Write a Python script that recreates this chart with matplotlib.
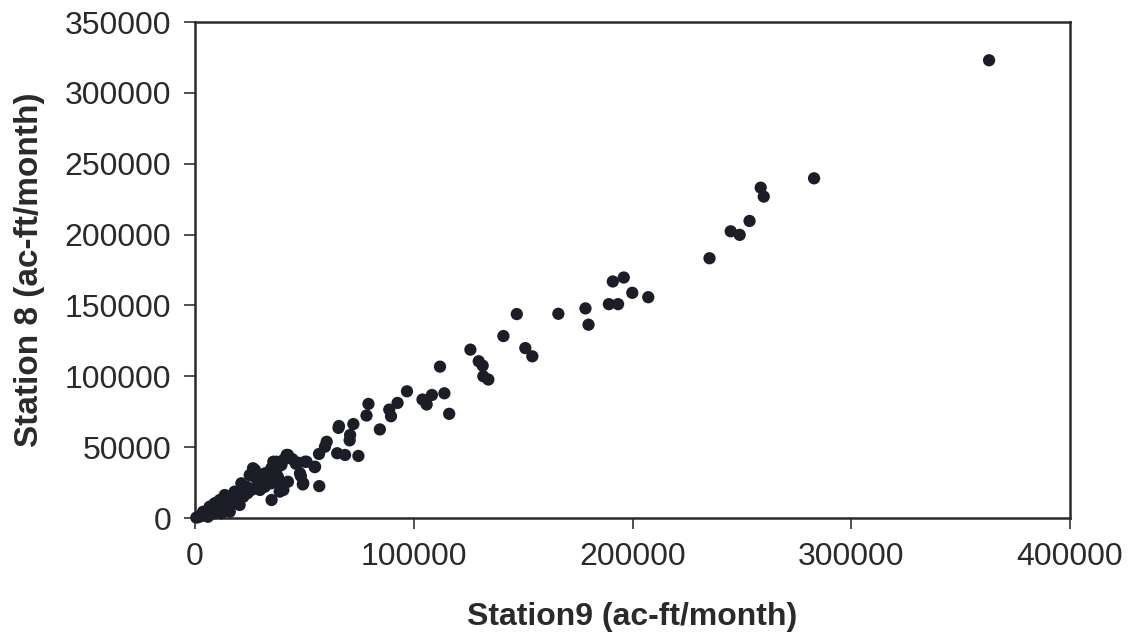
import matplotlib
matplotlib.use("Agg")
import matplotlib.pyplot as plt

# Station 9 (x) vs Station 8 (y), ac-ft/month
station9 = [
    363000, 283000, 258600, 260000, 253500, 244900, 249000, 235200,
    191000, 196000, 199900, 207200, 189200, 193400, 178500, 179900,
    166100, 147100, 141000, 125900, 151000, 154200, 129700, 131500,
    131800, 134100, 112000, 114000, 108300, 104000, 105900, 116200,
    96900, 79300, 88800, 89600, 92600, 78400, 84500, 65600,
    72400, 70900, 70700, 65800, 60200, 59400, 56700, 65000,
    68600, 74700, 50300, 46100, 54700, 56800, 48400, 49300,
    41900, 40400, 47200, 51000, 54900, 48000, 49500, 35800,
    38100, 27400, 26700, 29700, 35800, 39600, 35000, 40400,
    29700, 23600, 22100, 32000, 42500, 37200, 39500, 34900,
    32600, 26500, 25000, 27300, 29600, 31900, 34900, 37900,
    42500, 38700, 21200, 22700, 18100, 19700, 15100, 20400,
    16600, 12000, 10500, 7500, 5200, 2900, 600, 13600,
    15900, 9000, 5900, 12000, 13600, 11300, 9000, 6700,
    3700, 1500, 2200, 4200, 8000, 10000, 14500, 17000,
    19000, 24500, 30500, 36500, 28500, 26000, 24000, 17500,
    3000, 7000, 11000, 14000, 16500, 20500, 22500, 44500,
]
station8 = [
    323000, 239700, 233100, 226800, 209600, 202300, 199800, 183300,
    166900, 169700, 158900, 155800, 150900, 150900, 147900, 136400,
    144100, 143900, 128400, 118800, 119900, 114100, 110600, 107500,
    100000, 97700, 106800, 88000, 86800, 83600, 80100, 73500,
    89400, 80500, 76500, 71800, 81200, 72300, 62500, 63600,
    66300, 58600, 54800, 64900, 53800, 50300, 45200, 45700,
    44500, 43800, 39700, 38300, 35900, 22500, 29600, 23700,
    44500, 40900, 39000, 39700, 36200, 31500, 24500, 39700,
    36200, 33900, 30300, 26800, 25600, 24500, 12700, 19800,
    19800, 22100, 15000, 31500, 44500, 39700, 37400, 35100,
    31500, 35100, 30300, 29100, 25600, 22100, 24500, 29100,
    25600, 18600, 24500, 19800, 18600, 15000, 15000, 9200,
    10400, 10400, 6800, 5600, 3300, 2100, 300, 8000,
    4400, 3300, 900, 3300, 16200, 12700, 10400, 8000,
    4400, 600, 1200, 2500, 6200, 8800, 11500, 13500,
    12500, 20500, 27000, 33000, 23500, 20000, 17500, 13000,
    1500, 4000, 7200, 9500, 12000, 15500, 17500, 41500,
]

xticks = [0, 100000, 200000, 300000, 400000]
yticks = [0, 50000, 100000, 150000, 200000, 250000, 300000, 350000]

plt.rcParams['font.family'] = ['Liberation Sans', 'DejaVu Sans']

fig = plt.figure(figsize=(11.32, 6.43), dpi=100)
ax = fig.add_axes([195/1132, (643-518)/643, 875/1132, 496/643])

ax.scatter(station9, station8, s=78, color='#1b1e27', edgecolors='none', zorder=3, clip_on=False)

ax.set_xlim(0, 400000)
ax.set_ylim(0, 350000)
ax.set_xticks(xticks)
ax.set_yticks(yticks)
ax.set_xticklabels([str(v) for v in xticks])
ax.set_yticklabels([str(v) for v in yticks])
ax.tick_params(axis='both', direction='out', length=8, width=1.2, color='#333333',
               labelsize=23, labelcolor='#2a2a2a', pad=9)
for sp in ax.spines.values():
    sp.set_linewidth(1.8)
    sp.set_color('#2a2a2a')

ax.set_xlabel('Station9 (ac-ft/month)', fontsize=23, fontweight='bold', color='#2a2a2a', labelpad=22)
ax.set_ylabel('Station 8 (ac-ft/month)', fontsize=24, fontweight='bold', color='#2a2a2a', labelpad=14)

fig.savefig('out.png', dpi=100, facecolor='white')
